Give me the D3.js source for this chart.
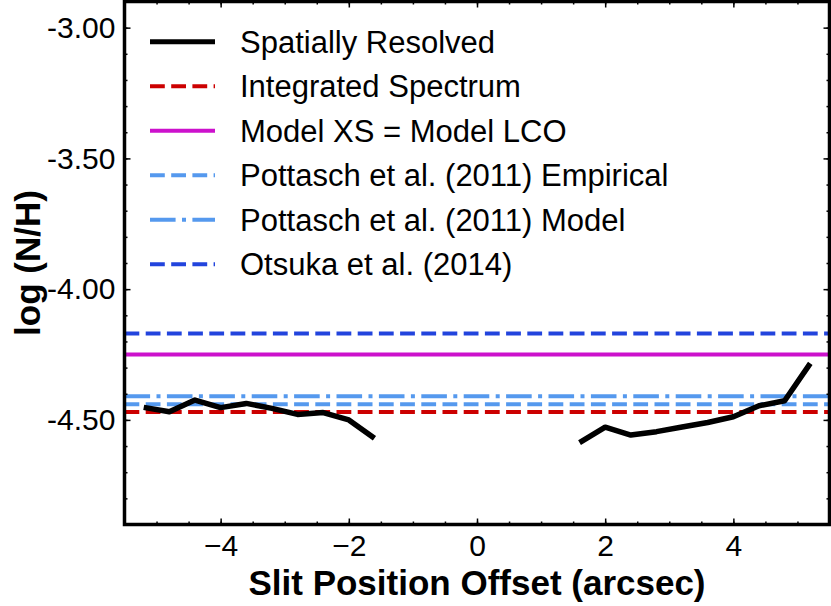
<!DOCTYPE html>
<meta charset="utf-8">
<style>
body { margin: 0; background: #fff; }
text { font-family: "Liberation Sans", Arial, sans-serif; fill: #000; }
.tick text { font-size: 30px; }
.axis path { display: none; }
.axis line { stroke: #000; stroke-width: 1.5; }
.label { font-size: 35px; font-weight: bold; }
.legend text { font-size: 31px; }
</style>
<body>
<svg width="831" height="606"></svg>
<script src="https://d3js.org/d3.v7.min.js"></script>
<script>

// spatially resolved profile
var offsetsLeft = [-5.2, -4.8, -4.4, -4.0, -3.6, -3.2, -2.8, -2.4, -2.0, -1.6];
var logNLeft    = [-4.452, -4.469, -4.424, -4.453, -4.437, -4.456, -4.479, -4.472, -4.500, -4.570];
var offsetsRight = [1.6, 2.0, 2.4, 2.8, 3.2, 3.6, 4.0, 4.4, 4.8, 5.2];
var logNRight    = [-4.587, -4.528, -4.558, -4.545, -4.527, -4.510, -4.488, -4.446, -4.427, -4.284];

// reference values
var refNames  = ["Integrated Spectrum", "Model XS = Model LCO", "Pottasch et al. (2011) Empirical",
                 "Pottasch et al. (2011) Model", "Otsuka et al. (2014)"];
var refValues = [-4.47, -4.25, -4.44, -4.41, -4.17];

var xTicks = [-4, -2, 0, 2, 4];
var yTicks = [-3.0, -3.5, -4.0, -4.5];

var svg = d3.select("svg"),
    pLeft = 124.5, pRight = 829.5, pTop = 1.5, pBottom = 524.5;

var x = d3.scaleLinear().domain([-5.5, 5.5]).range([pLeft, pRight]);
var y = d3.scaleLinear().domain([-4.9, -2.9]).range([pBottom, pTop]);

var refStyle = [
  {color: "#cc0000", dash: "14.8,6.4", width: 4},
  {color: "#cc11cc", dash: null, width: 4},
  {color: "#5599ee", dash: "14.8,6.4", width: 4},
  {color: "#5599ee", dash: "25.6,6.4,4,6.4", width: 4},
  {color: "#2244dd", dash: "14.8,6.4", width: 4}
];

svg.append("clipPath").attr("id", "clip")
  .append("rect").attr("x", pLeft).attr("y", pTop)
  .attr("width", pRight - pLeft).attr("height", pBottom - pTop);

var plot = svg.append("g").attr("clip-path", "url(#clip)");

var line = d3.line().x(function(d) { return x(d[0]); }).y(function(d) { return y(d[1]); });

refValues.forEach(function(v, i) {
  plot.append("path")
    .attr("d", line([[-5.5, v], [5.5, v]]))
    .attr("fill", "none")
    .attr("stroke", refStyle[i].color)
    .attr("stroke-width", refStyle[i].width)
    .attr("stroke-dasharray", refStyle[i].dash);
});

[[offsetsLeft, logNLeft], [offsetsRight, logNRight]].forEach(function(s) {
  plot.append("path")
    .attr("d", line(d3.zip(s[0], s[1])))
    .attr("fill", "none")
    .attr("stroke", "#000")
    .attr("stroke-width", 5.5)
    .attr("stroke-linejoin", "round");
});

// axes, ticks pointing inward
var xMinor = d3.range(-5, 5.01, 0.5),
    yMinor = d3.range(-4.8, -2.95, 0.1);

function addAxis(axis, tx, ty) {
  return svg.append("g").attr("class", "axis")
    .attr("transform", "translate(" + tx + "," + ty + ")").call(axis);
}

addAxis(d3.axisBottom(x).tickValues(xMinor).tickSize(-3).tickFormat(""), 0, pBottom);
addAxis(d3.axisBottom(x).tickValues(xTicks).tickSize(-6).tickPadding(10)
  .tickFormat(function(d) { return d < 0 ? "\u2212" + Math.abs(d) : d; }), 0, pBottom);
addAxis(d3.axisTop(x).tickValues(xMinor).tickSize(-3).tickFormat(""), 0, pTop);
addAxis(d3.axisTop(x).tickValues(xTicks).tickSize(-6).tickFormat(""), 0, pTop);

addAxis(d3.axisLeft(y).tickValues(yMinor).tickSize(-3).tickFormat(""), pLeft, 0);
addAxis(d3.axisLeft(y).tickValues(yTicks).tickSize(-6).tickPadding(9)
  .tickFormat(function(d) { return d3.format(".2f")(d).replace("\u2212", "-"); }), pLeft, 0);
addAxis(d3.axisRight(y).tickValues(yMinor).tickSize(-3).tickFormat(""), pRight, 0);
addAxis(d3.axisRight(y).tickValues(yTicks).tickSize(-6).tickFormat(""), pRight, 0);

svg.append("rect")
  .attr("x", pLeft).attr("y", pTop)
  .attr("width", pRight - pLeft).attr("height", pBottom - pTop)
  .attr("fill", "none").attr("stroke", "#000").attr("stroke-width", 3.5);

svg.append("text").attr("class", "label")
  .attr("x", (pLeft + pRight) / 2).attr("y", 595)
  .attr("text-anchor", "middle")
  .text("Slit Position Offset (arcsec)");

svg.append("text").attr("class", "label")
  .attr("transform", "translate(40," + (pTop + pBottom) / 2 + ") rotate(-90)")
  .attr("text-anchor", "middle")
  .text("log (N/H)");

// legend
var legendNames = ["Spatially Resolved"].concat(refNames);
var legendStyle = [{color: "#000", dash: null, width: 5}].concat(refStyle);

var legend = svg.append("g").attr("class", "legend");
legendNames.forEach(function(name, i) {
  var ly = 41.7 + i * 44.5;
  legend.append("line")
    .attr("x1", 150).attr("x2", 215).attr("y1", ly).attr("y2", ly)
    .attr("stroke", legendStyle[i].color)
    .attr("stroke-width", legendStyle[i].width)
    .attr("stroke-dasharray", legendStyle[i].dash);
  legend.append("text")
    .attr("x", 240).attr("y", ly).attr("dy", "0.36em")
    .text(name);
});

</script>
</body>
